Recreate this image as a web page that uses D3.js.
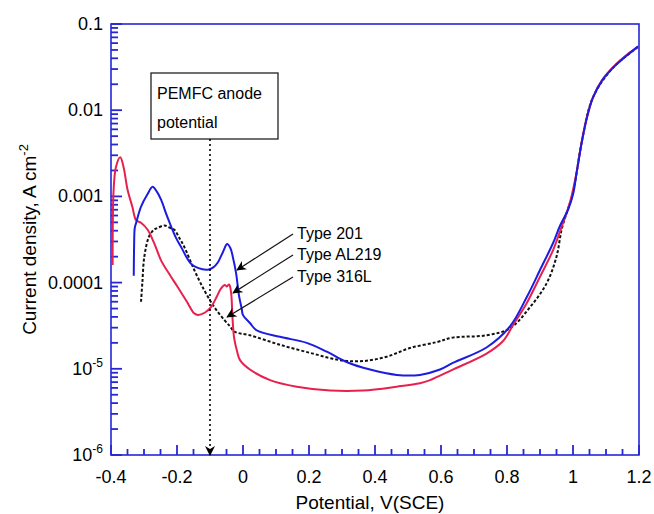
<!DOCTYPE html>
<html>
<head>
<meta charset="utf-8">
<script src="https://cdn.jsdelivr.net/npm/d3@7"></script>
<style>
  body { margin: 0; background: #fff; }
  text { font-family: "Liberation Sans", Arial, sans-serif; fill: #000; }
</style>
</head>
<body>
<div id="chart"></div>
<script>
// potential (V vs SCE) and current density (A cm-2)
var type201V = [-0.331, -0.330, -0.328, -0.324, -0.309, -0.290, -0.274, -0.262, -0.248, -0.233, -0.218, -0.203, -0.188, -0.158, -0.137, -0.107, -0.090, -0.077, -0.060, -0.048, -0.038, -0.031, -0.021, -0.012, -0.004, 0.000, 0.021, 0.041, 0.112, 0.193, 0.254, 0.314, 0.385, 0.466, 0.536, 0.597, 0.636, 0.739, 0.809, 0.860, 0.900, 0.940, 0.961, 0.985, 1.000, 1.012, 1.027, 1.042, 1.060, 1.088, 1.121, 1.163, 1.197];
var type201I = [1.2e-4, 2.6e-4, 4.3e-4, 4.9e-4, 7.6e-4, 1.05e-3, 1.29e-3, 1.15e-3, 9.1e-4, 6.3e-4, 4.5e-4, 3.3e-4, 2.6e-4, 1.66e-4, 1.48e-4, 1.41e-4, 1.5e-4, 1.7e-4, 2.3e-4, 2.8e-4, 2.5e-4, 2.0e-4, 1.29e-4, 7.0e-5, 5.0e-5, 4.2e-5, 3.4e-5, 2.8e-5, 2.35e-5, 2.0e-5, 1.58e-5, 1.2e-5, 9.8e-6, 8.5e-6, 8.5e-6, 9.8e-6, 1.17e-5, 1.78e-5, 3.1e-5, 6.8e-5, 1.4e-4, 2.9e-4, 4.6e-4, 7.0e-4, 1.05e-3, 2.0e-3, 4.3e-3, 8.1e-3, 1.38e-2, 2.2e-2, 3.1e-2, 4.3e-2, 5.5e-2];

var al219V = [-0.395, -0.392, -0.385, -0.372, -0.362, -0.350, -0.335, -0.324, -0.309, -0.289, -0.268, -0.248, -0.220, -0.198, -0.170, -0.148, -0.136, -0.115, -0.097, -0.080, -0.067, -0.055, -0.049, -0.042, -0.036, -0.032, -0.027, -0.018, -0.009, 0.021, 0.082, 0.163, 0.264, 0.364, 0.466, 0.536, 0.567, 0.636, 0.738, 0.788, 0.818, 0.860, 0.900, 0.940, 0.966, 0.991, 1.012, 1.027, 1.042, 1.060, 1.088, 1.121, 1.163, 1.197];
var al219I = [1.6e-4, 1.2e-3, 2.2e-3, 2.85e-3, 2.2e-3, 1.2e-3, 7.5e-4, 5.3e-4, 4.95e-4, 4.1e-4, 2.8e-4, 1.8e-4, 1.2e-4, 8.9e-5, 6.0e-5, 4.4e-5, 4.2e-5, 4.5e-5, 5.2e-5, 6.8e-5, 8.5e-5, 9.4e-5, 9.0e-5, 9.5e-5, 7.6e-5, 4.0e-5, 2.3e-5, 1.6e-5, 1.26e-5, 9.8e-6, 7.4e-6, 6.2e-6, 5.6e-6, 5.6e-6, 6.2e-6, 6.8e-6, 7.4e-6, 9.8e-6, 1.5e-5, 2.1e-5, 3.2e-5, 5.8e-5, 1.17e-4, 2.4e-4, 4.5e-4, 8.6e-4, 2.0e-3, 4.5e-3, 8.3e-3, 1.4e-2, 2.24e-2, 3.16e-2, 4.4e-2, 5.4e-2];

var t316V = [-0.309, -0.305, -0.299, -0.285, -0.270, -0.259, -0.238, -0.220, -0.208, -0.193, -0.178, -0.148, -0.117, -0.087, -0.057, -0.039, -0.026, 0.021, 0.112, 0.212, 0.294, 0.364, 0.435, 0.506, 0.587, 0.636, 0.739, 0.809, 0.870, 0.920, 0.950, 0.966, 0.985, 1.000, 1.027, 1.060, 1.121, 1.197];
var t316I = [6.0e-5, 1.0e-4, 2.0e-4, 3.4e-4, 4.1e-4, 4.3e-4, 4.6e-4, 4.3e-4, 4.1e-4, 3.3e-4, 2.6e-4, 1.41e-4, 8.1e-5, 5.2e-5, 3.7e-5, 3.1e-5, 2.7e-5, 2.45e-5, 1.9e-5, 1.5e-5, 1.26e-5, 1.23e-5, 1.38e-5, 1.74e-5, 2.04e-5, 2.3e-5, 2.45e-5, 2.95e-5, 5.2e-5, 9.8e-5, 2.0e-4, 4.2e-4, 7.2e-4, 1.1e-3, 4.4e-3, 1.4e-2, 3.1e-2, 5.4e-2];

var xTicks = [-0.4, -0.2, 0, 0.2, 0.4, 0.6, 0.8, 1, 1.2];
var yTicks = [1e-6, 1e-5, 1e-4, 1e-3, 1e-2, 1e-1];
var yTickText = [["10", "-6"], ["10", "-5"], ["0.0001"], ["0.001"], ["0.01"], ["0.1"]];

var seriesNames = ["Type 201", "Type AL219", "Type 316L"];
// where each label's arrow points: [potential, current]
var arrowTips = [[-0.018, 1.4e-4], [-0.030, 7.6e-5], [-0.048, 4.0e-5]];
var anodePotential = -0.1;

var width = 654, height = 514;
var plotLeft = 111, plotRight = 639, plotTop = 24, plotBottom = 455;
var axisColor = "#2626d8";

var svg = d3.select("#chart")
  .append("svg")
    .attr("width", width)
    .attr("height", height);

var x = d3.scaleLinear().domain([-0.4, 1.2]).range([plotLeft, plotRight]);
var y = d3.scaleLog().domain([1e-6, 0.1]).range([plotBottom, plotTop]);

svg.append("defs").append("marker")
    .attr("id", "head")
    .attr("viewBox", "0 0 10 10")
    .attr("refX", 9).attr("refY", 5)
    .attr("markerWidth", 10).attr("markerHeight", 10)
    .attr("markerUnits", "userSpaceOnUse")
    .attr("orient", "auto")
  .append("path")
    .attr("d", "M0,0 L10,5 L0,10 L3,5 Z")
    .attr("fill", "#000");

// minor ticks
var xMinor = d3.range(-0.4, 1.2001, 0.05).map(function(d) { return +d.toFixed(2); });
var yMinor = [];
for (var e = -6; e < -1; e++) {
  for (var m = 2; m <= 9; m++) yMinor.push(m * Math.pow(10, e));
}

// frame
svg.append("rect")
  .attr("x", plotLeft).attr("y", plotTop)
  .attr("width", plotRight - plotLeft).attr("height", plotBottom - plotTop)
  .attr("fill", "none")
  .attr("stroke", axisColor)
  .attr("stroke-width", 1.6);

// ticks point inward from bottom and left edges
svg.selectAll("line.xtick")
  .data(xMinor)
  .enter().append("line")
    .attr("class", "xtick")
    .attr("x1", function(d) { return x(d); })
    .attr("x2", function(d) { return x(d); })
    .attr("y1", plotBottom)
    .attr("y2", function(d) { return plotBottom - (xTicks.indexOf(d) >= 0 ? 10 : 6); })
    .style("stroke", axisColor)
    .style("stroke-width", "1.8px");

svg.selectAll("line.ytick")
  .data(yMinor.concat(yTicks))
  .enter().append("line")
    .attr("class", "ytick")
    .attr("x1", plotLeft)
    .attr("x2", function(d) { return plotLeft + (yTicks.indexOf(d) >= 0 ? 11 : 7); })
    .attr("y1", function(d) { return y(d); })
    .attr("y2", function(d) { return y(d); })
    .style("stroke", axisColor)
    .style("stroke-width", "1.8px");

// tick labels
svg.selectAll(".xlab")
  .data(xTicks)
  .enter().append("text")
    .attr("x", function(d) { return x(d); })
    .attr("y", 483)
    .attr("text-anchor", "middle")
    .style("font-size", "18px")
    .text(function(d) { return d; });

var yl = svg.selectAll(".ylab")
  .data(yTicks)
  .enter().append("text")
    .attr("x", 103)
    .attr("y", function(d) { return y(d) + 6; })
    .attr("text-anchor", "end")
    .style("font-size", "18px");
yl.each(function(d, i) {
  var t = d3.select(this), parts = yTickText[i];
  t.append("tspan").text(parts[0]);
  if (parts.length > 1) {
    t.append("tspan").attr("dy", -8).style("font-size", "12px").text(parts[1]);
  }
});

// axis titles
svg.append("text")
  .attr("x", 370).attr("y", 509)
  .attr("text-anchor", "middle")
  .style("font-size", "19px")
  .text("Potential, V(SCE)");

var yt = svg.append("text")
  .attr("transform", "translate(36," + ((plotTop + plotBottom) / 2) + ") rotate(-90)")
  .attr("text-anchor", "middle")
  .style("font-size", "19px");
yt.append("tspan").text("Current density, A cm");
yt.append("tspan").attr("dy", -8).style("font-size", "13px").text("-2");

// curves
var line = d3.line()
  .x(function(d) { return x(d[0]); })
  .y(function(d) { return y(d[1]); })
  .curve(d3.curveCatmullRom.alpha(0.5));

var curves = [
  {v: t316V, i: t316I, color: "#111", width: 2, dash: "3,2"},
  {v: al219V, i: al219I, color: "#e8204e", width: 2, dash: null},
  {v: type201V, i: type201I, color: "#1c1ce0", width: 2, dash: null}
];

curves.forEach(function(c) {
  svg.append("path")
    .datum(d3.zip(c.v, c.i))
    .attr("fill", "none")
    .attr("stroke", c.color)
    .attr("stroke-width", c.width)
    .attr("stroke-dasharray", c.dash)
    .attr("d", line);
});

// PEMFC anode potential box and arrow
svg.append("rect")
  .attr("x", 151).attr("y", 73)
  .attr("width", 127).attr("height", 66)
  .attr("fill", "#fff")
  .attr("stroke", "#222")
  .attr("stroke-width", 1.3);
svg.append("text").attr("x", 157).attr("y", 99).style("font-size", "16px").text("PEMFC anode");
svg.append("text").attr("x", 157).attr("y", 128).style("font-size", "16px").text("potential");

svg.append("line")
  .attr("x1", x(anodePotential)).attr("x2", x(anodePotential))
  .attr("y1", 139).attr("y2", plotBottom)
  .attr("stroke", "#000")
  .attr("stroke-width", 1.6)
  .attr("stroke-dasharray", "2,3")
  .attr("marker-end", "url(#head)");

// series labels with arrows
var labelY = [233, 254, 276];
seriesNames.forEach(function(name, k) {
  svg.append("line")
    .attr("x1", 293).attr("y1", labelY[k] + 1)
    .attr("x2", x(arrowTips[k][0])).attr("y2", y(arrowTips[k][1]))
    .attr("stroke", "#111")
    .attr("stroke-width", 1.2)
    .attr("marker-end", "url(#head)");
  svg.append("text")
    .attr("x", 297).attr("y", labelY[k] + 6)
    .style("font-size", "16px")
    .text(name);
});
</script>
</body>
</html>
